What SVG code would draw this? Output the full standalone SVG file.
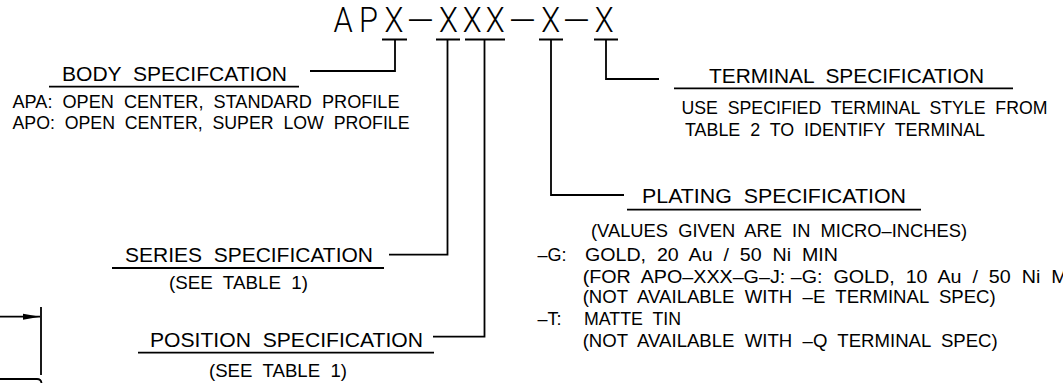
<svg xmlns="http://www.w3.org/2000/svg" width="1063" height="383" viewBox="0 0 1063 383">
<style>
text{font-family:"Liberation Sans",Arial,sans-serif;fill:#000;white-space:pre}
.h{font-size:20px}
.t{font-size:18px}
.p{font-family:Roboto,"Liberation Sans",sans-serif;font-weight:300;font-size:35px}
.d{font-family:"Liberation Sans",sans-serif;font-weight:400;font-size:26px}
.l{fill:none;stroke:#000;stroke-width:1.8}
</style>
<defs><marker id="ah" markerWidth="18" markerHeight="8" refX="17" refY="4" orient="auto" markerUnits="userSpaceOnUse"><path d="M0 1L17 4L0 7Z" fill="#000"/></marker></defs>
<rect width="1063" height="383" fill="#fff"/>
<g id="part-number"><text class="p" y="32" transform="scale(.88 1)" x="379 408 437">APX<tspan class="d" x="464.8" dy="-5">—</tspan><tspan x="499 526 552" dy="5">XXX</tspan><tspan class="d" x="580.7" dy="-5">—</tspan><tspan x="615" dy="5">X</tspan><tspan class="d" x="642" dy="-5">—</tspan><tspan x="676" dy="5">X</tspan></text></g>
<g id="connectors">
<path class="l" d="M382 39.5H407M436 39.5H460M465 39.5H505M539 39.5H563M594 39.5H618"/>
<path class="l" d="M395 39.5V71H310"/>
<path class="l" d="M447.5 39.5V254.7H389"/>
<path class="l" d="M484.5 39.5V336.7H433"/>
<path class="l" d="M551 39.5V195H624"/>
<path class="l" d="M606 39.5V79H659"/>
</g>
<g id="body-spec">
<text class="h" x="62" y="81" textLength="225" lengthAdjust="spacingAndGlyphs">BODY  SPECIFCATION</text>
<path class="l" d="M49 86.7H299"/>
<text class="t" x="12.5" y="108" textLength="387" lengthAdjust="spacingAndGlyphs">APA:  OPEN  CENTER,  STANDARD  PROFILE</text>
<text class="t" x="12.5" y="128.5" textLength="397" lengthAdjust="spacingAndGlyphs">APO:  OPEN  CENTER,  SUPER  LOW  PROFILE</text>
</g>
<g id="terminal-spec">
<text class="h" x="709" y="82.7" textLength="275" lengthAdjust="spacingAndGlyphs">TERMINAL  SPECIFICATION</text>
<path class="l" d="M674 88.3H1013"/>
<text class="t" x="681.5" y="114" textLength="366" lengthAdjust="spacingAndGlyphs">USE  SPECIFIED  TERMINAL  STYLE  FROM</text>
<text class="t" x="685" y="135.5" textLength="300" lengthAdjust="spacingAndGlyphs">TABLE  2  TO  IDENTIFY  TERMINAL</text>
</g>
<g id="plating-spec">
<text class="h" x="642" y="203.3" textLength="264" lengthAdjust="spacingAndGlyphs">PLATING  SPECIFICATION</text>
<path class="l" d="M627 209.7H921"/>
<text class="t" x="591" y="237.3" textLength="376" lengthAdjust="spacingAndGlyphs">(VALUES  GIVEN  ARE  IN  MICRO–INCHES)</text>
<text class="t" x="537.5" y="261">–G:</text>
<text class="t" x="585" y="261" textLength="253" lengthAdjust="spacingAndGlyphs">GOLD,  20  Au  /  50  Ni  MIN</text>
<text class="t" x="582.7" y="283" textLength="485" lengthAdjust="spacingAndGlyphs">(FOR  APO–XXX–G–J: –G:  GOLD,  10  Au  /  50  Ni  M</text>
<text class="t" x="582.7" y="303.3" textLength="413" lengthAdjust="spacingAndGlyphs">(NOT  AVAILABLE  WITH  –E  TERMINAL  SPEC)</text>
<text class="t" x="537.5" y="325">–T:</text>
<text class="t" x="584" y="325" textLength="97" lengthAdjust="spacingAndGlyphs">MATTE  TIN</text>
<text class="t" x="582.7" y="346.7" textLength="415" lengthAdjust="spacingAndGlyphs">(NOT  AVAILABLE  WITH  –Q  TERMINAL  SPEC)</text>
</g>
<g id="series-spec">
<text class="h" x="125" y="261.7" textLength="248" lengthAdjust="spacingAndGlyphs">SERIES  SPECIFICATION</text>
<path class="l" d="M112 268H384"/>
<text class="t" x="169" y="289" textLength="139" lengthAdjust="spacingAndGlyphs">(SEE  TABLE  1)</text>
</g>
<g id="position-spec">
<text class="h" x="150" y="346.7" textLength="273" lengthAdjust="spacingAndGlyphs">POSITION  SPECIFICATION</text>
<path class="l" d="M138 352.7H434"/>
<text class="t" x="209" y="376.7" textLength="138" lengthAdjust="spacingAndGlyphs">(SEE  TABLE  1)</text>
</g>
<g id="partial-drawing">
<path class="l" d="M0 316.7H40" marker-end="url(#ah)"/>
<path class="l" d="M41 307V375"/>
<path class="l" d="M0 379H37Q41 379 41.5 383"/>
</g>
</svg>
